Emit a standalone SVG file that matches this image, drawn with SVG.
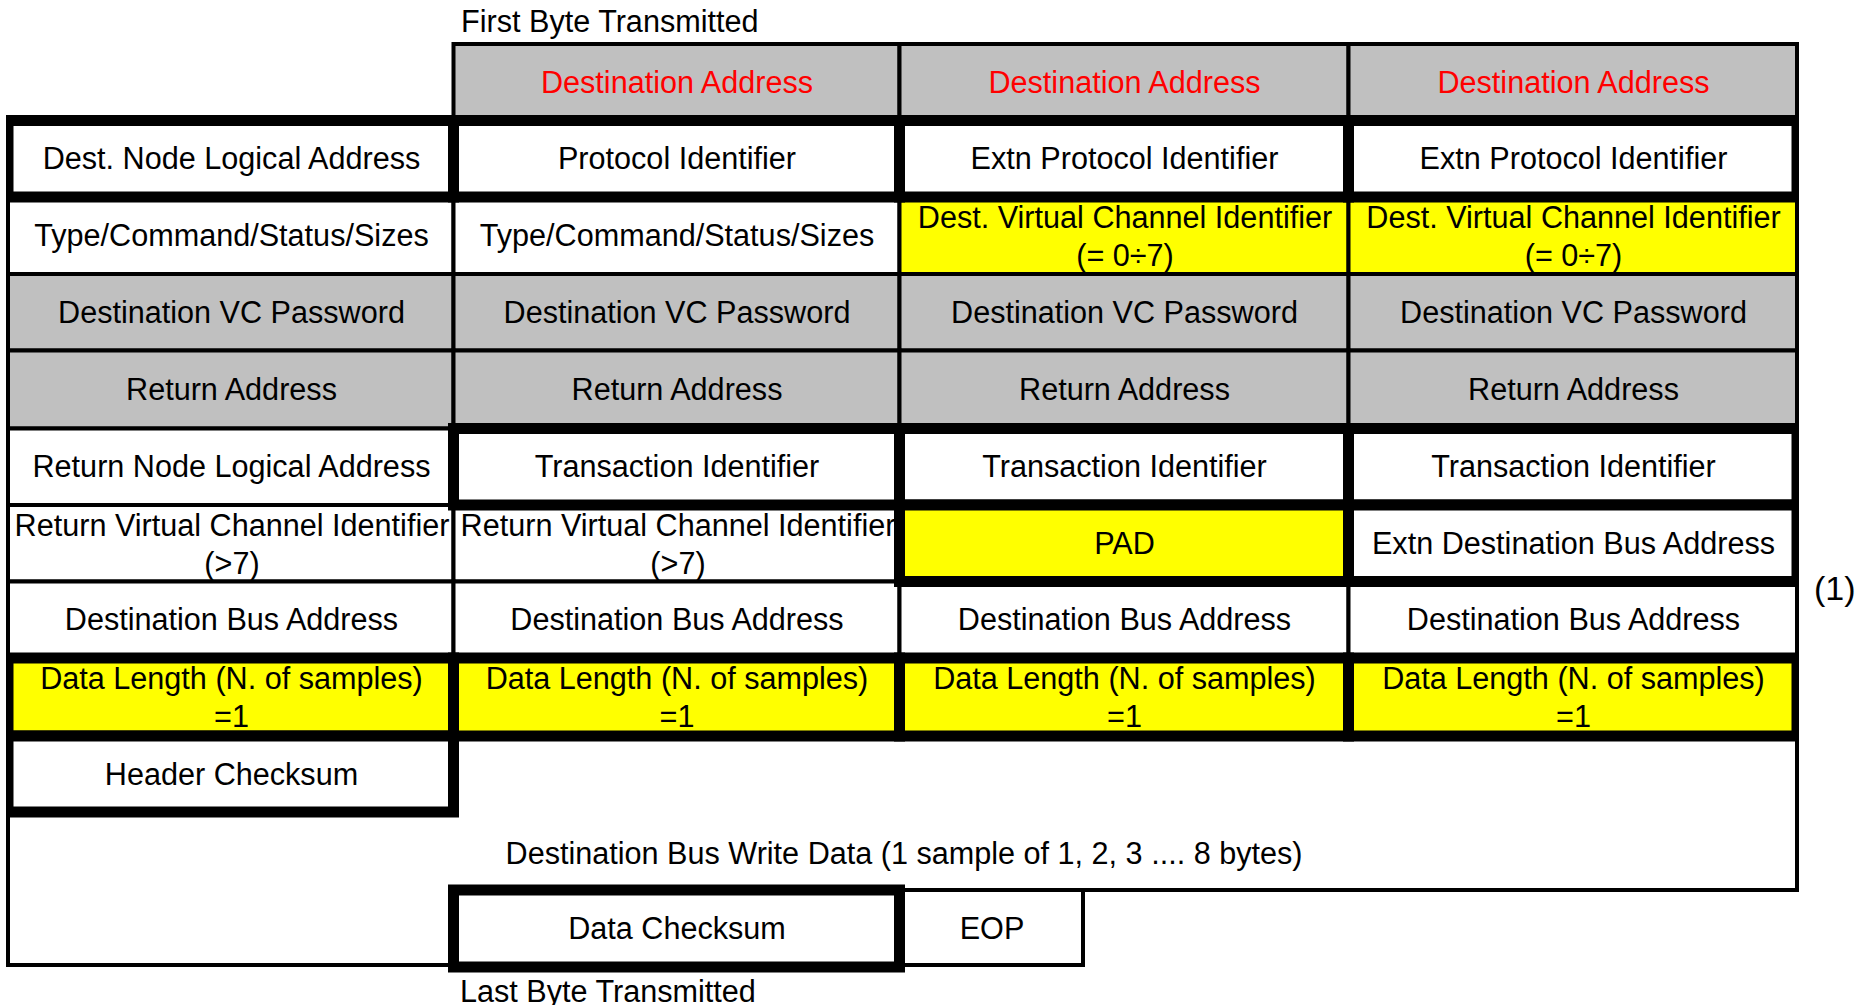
<svg xmlns="http://www.w3.org/2000/svg" width="1862" height="1005" viewBox="0 0 1862 1005">
  <style>
    text { font-family: "Liberation Sans", Arial, sans-serif; font-size: 30.6px; fill: #000; }
    .c { text-anchor: middle; }
    .red { fill: #FF0000; }
    .thin { stroke: #000; stroke-width: 4; }
    .white { fill: #FFFFFF; }
    .gray { fill: #C0C0C0; }
    .yellow { fill: #FFFF00; }
    .band { fill: #000; }
  </style>
  <rect x="0" y="0" width="1862" height="1005" fill="#FFFFFF"/>

  <!-- captions -->
  <text id="first-byte" x="461" y="32">First Byte Transmitted</text>
  <text id="last-byte" x="460" y="1002">Last Byte Transmitted</text>
  <text id="note-1" x="1814" y="600" style="font-size:34px">(1)</text>

  <!-- write data area (irregular outline round the trailing fields) -->
  <g id="write-data">
    <path class="thin white" d="M8 812 L8 965 L453.5 965 L453.5 890 L1797 890 L1797 736 L453.5 736 L453.5 812 Z"/>
    <text class="c" x="904" y="864">Destination Bus Write Data (1 sample of 1, 2, 3 .... 8 bytes)</text>
  </g>

  <!-- header row: destination address bytes -->
  <g id="r1c2"><rect class="thin gray" x="453.5" y="44" width="446" height="76.5"/><text class="c red" x="677" y="92.75">Destination Address</text></g>
  <g id="r1c3"><rect class="thin gray" x="899.5" y="44" width="449" height="76.5"/><text class="c red" x="1124.5" y="92.75">Destination Address</text></g>
  <g id="r1c4"><rect class="thin gray" x="1348.5" y="44" width="448.5" height="76.5"/><text class="c red" x="1573.5" y="92.75">Destination Address</text></g>

  <!-- row 3 -->
  <g id="r3c1"><rect class="thin white" x="8" y="197" width="445.5" height="77"/><text class="c" x="231.5" y="245.5">Type/Command/Status/Sizes</text></g>
  <g id="r3c2"><rect class="thin white" x="453.5" y="197" width="446" height="77"/><text class="c" x="677" y="245.5">Type/Command/Status/Sizes</text></g>
  <g id="r3c3"><rect class="thin yellow" x="899.5" y="197" width="449" height="77"/><text class="c" x="1125" y="228">Dest. Virtual Channel Identifier</text><text class="c" x="1125" y="266">(= 0÷7)</text></g>
  <g id="r3c4"><rect class="thin yellow" x="1348.5" y="197" width="448.5" height="77"/><text class="c" x="1573.5" y="228">Dest. Virtual Channel Identifier</text><text class="c" x="1573.5" y="266">(= 0÷7)</text></g>

  <!-- row 4 -->
  <g id="r4c1"><rect class="thin gray" x="8" y="274" width="445.5" height="76.5"/><text class="c" x="231.5" y="322.75">Destination VC Password</text></g>
  <g id="r4c2"><rect class="thin gray" x="453.5" y="274" width="446" height="76.5"/><text class="c" x="677" y="322.75">Destination VC Password</text></g>
  <g id="r4c3"><rect class="thin gray" x="899.5" y="274" width="449" height="76.5"/><text class="c" x="1124.5" y="322.75">Destination VC Password</text></g>
  <g id="r4c4"><rect class="thin gray" x="1348.5" y="274" width="448.5" height="76.5"/><text class="c" x="1573.5" y="322.75">Destination VC Password</text></g>

  <!-- row 5 -->
  <g id="r5c1"><rect class="thin gray" x="8" y="350.5" width="445.5" height="78"/><text class="c" x="231.5" y="400">Return Address</text></g>
  <g id="r5c2"><rect class="thin gray" x="453.5" y="350.5" width="446" height="78"/><text class="c" x="677" y="400">Return Address</text></g>
  <g id="r5c3"><rect class="thin gray" x="899.5" y="350.5" width="449" height="78"/><text class="c" x="1124.5" y="400">Return Address</text></g>
  <g id="r5c4"><rect class="thin gray" x="1348.5" y="350.5" width="448.5" height="78"/><text class="c" x="1573.5" y="400">Return Address</text></g>

  <!-- row 6, first column -->
  <g id="r6c1"><rect class="thin white" x="8" y="428.5" width="445.5" height="76.5"/><text class="c" x="231.5" y="477.25">Return Node Logical Address</text></g>

  <!-- row 7, first two columns -->
  <g id="r7c1"><rect class="thin white" x="8" y="505" width="445.5" height="76.5"/><text class="c" x="232" y="536">Return Virtual Channel Identifier</text><text class="c" x="232" y="574">(&gt;7)</text></g>
  <g id="r7c2"><rect class="thin white" x="453.5" y="505" width="446" height="76.5"/><text class="c" x="678" y="536">Return Virtual Channel Identifier</text><text class="c" x="678" y="574">(&gt;7)</text></g>

  <!-- row 8 -->
  <g id="r8c1"><rect class="thin white" x="8" y="581.5" width="445.5" height="76.5"/><text class="c" x="231.5" y="630.25">Destination Bus Address</text></g>
  <g id="r8c2"><rect class="thin white" x="453.5" y="581.5" width="446" height="76.5"/><text class="c" x="677" y="630.25">Destination Bus Address</text></g>
  <g id="r8c3"><rect class="thin white" x="899.5" y="581.5" width="449" height="76.5"/><text class="c" x="1124.5" y="630.25">Destination Bus Address</text></g>
  <g id="r8c4"><rect class="thin white" x="1348.5" y="581.5" width="448.5" height="76.5"/><text class="c" x="1573.5" y="630.25">Destination Bus Address</text></g>

  <!-- end of packet -->
  <g id="eop"><rect class="thin white" x="899.5" y="890" width="183.5" height="75"/><text class="c" x="992" y="938.5">EOP</text></g>

  <!-- heavy-outlined fields: black frame, then inner fill -->
  <g id="r2c1"><rect class="band" x="6" y="115" width="453" height="87.5"/><rect class="white" x="13.5" y="126" width="434.5" height="65.5"/><text class="c" x="231.5" y="169.25">Dest. Node Logical Address</text></g>
  <g id="r2c2"><rect class="band" x="448" y="115" width="457" height="87.5"/><rect class="white" x="459" y="126" width="435" height="65.5"/><text class="c" x="677" y="169.25">Protocol Identifier</text></g>
  <g id="r2c3"><rect class="band" x="894" y="115" width="460" height="87.5"/><rect class="white" x="905" y="126" width="438" height="65.5"/><text class="c" x="1124.5" y="169.25">Extn Protocol Identifier</text></g>
  <g id="r2c4"><rect class="band" x="1343" y="115" width="456" height="87.5"/><rect class="white" x="1354" y="126" width="437.5" height="65.5"/><text class="c" x="1573.5" y="169.25">Extn Protocol Identifier</text></g>

  <g id="r6c2"><rect class="band" x="448" y="423" width="457" height="87.5"/><rect class="white" x="459" y="434" width="435" height="65.5"/><text class="c" x="677" y="477.25">Transaction Identifier</text></g>
  <g id="r6c3"><rect class="band" x="894" y="423" width="460" height="87.5"/><rect class="white" x="905" y="434" width="438" height="65.5"/><text class="c" x="1124.5" y="477.25">Transaction Identifier</text></g>
  <g id="r6c4"><rect class="band" x="1343" y="423" width="456" height="87.5"/><rect class="white" x="1354" y="434" width="437.5" height="65.5"/><text class="c" x="1573.5" y="477.25">Transaction Identifier</text></g>

  <g id="r7c3"><rect class="band" x="894" y="499.5" width="460" height="87.5"/><rect class="yellow" x="905" y="510.5" width="438" height="65.5"/><text class="c" x="1124.5" y="553.75">PAD</text></g>
  <g id="r7c4"><rect class="band" x="1343" y="499.5" width="456" height="87.5"/><rect class="white" x="1354" y="510.5" width="437.5" height="65.5"/><text class="c" x="1573.5" y="553.75">Extn Destination Bus Address</text></g>

  <g id="r9c1"><rect class="band" x="6" y="652.5" width="453" height="89"/><rect class="yellow" x="13.5" y="663.5" width="434.5" height="67"/><text class="c" x="231.5" y="689">Data Length (N. of samples)</text><text class="c" x="231.5" y="727">=1</text></g>
  <g id="r9c2"><rect class="band" x="448" y="652.5" width="457" height="89"/><rect class="yellow" x="459" y="663.5" width="435" height="67"/><text class="c" x="677" y="689">Data Length (N. of samples)</text><text class="c" x="677" y="727">=1</text></g>
  <g id="r9c3"><rect class="band" x="894" y="652.5" width="460" height="89"/><rect class="yellow" x="905" y="663.5" width="438" height="67"/><text class="c" x="1124.5" y="689">Data Length (N. of samples)</text><text class="c" x="1124.5" y="727">=1</text></g>
  <g id="r9c4"><rect class="band" x="1343" y="652.5" width="456" height="89"/><rect class="yellow" x="1354" y="663.5" width="437.5" height="67"/><text class="c" x="1573.5" y="689">Data Length (N. of samples)</text><text class="c" x="1573.5" y="727">=1</text></g>

  <g id="header-checksum"><rect class="band" x="6" y="730.5" width="453" height="87"/><rect class="white" x="13.5" y="741.5" width="434.5" height="65"/><text class="c" x="231.5" y="784.5">Header Checksum</text></g>

  <g id="data-checksum"><rect class="band" x="448" y="884.5" width="457" height="88"/><rect class="white" x="459" y="895.5" width="435" height="66"/><text class="c" x="677" y="939">Data Checksum</text></g>

  <!-- this table has no connectors -->
  <g id="connectors"/>
</svg>
